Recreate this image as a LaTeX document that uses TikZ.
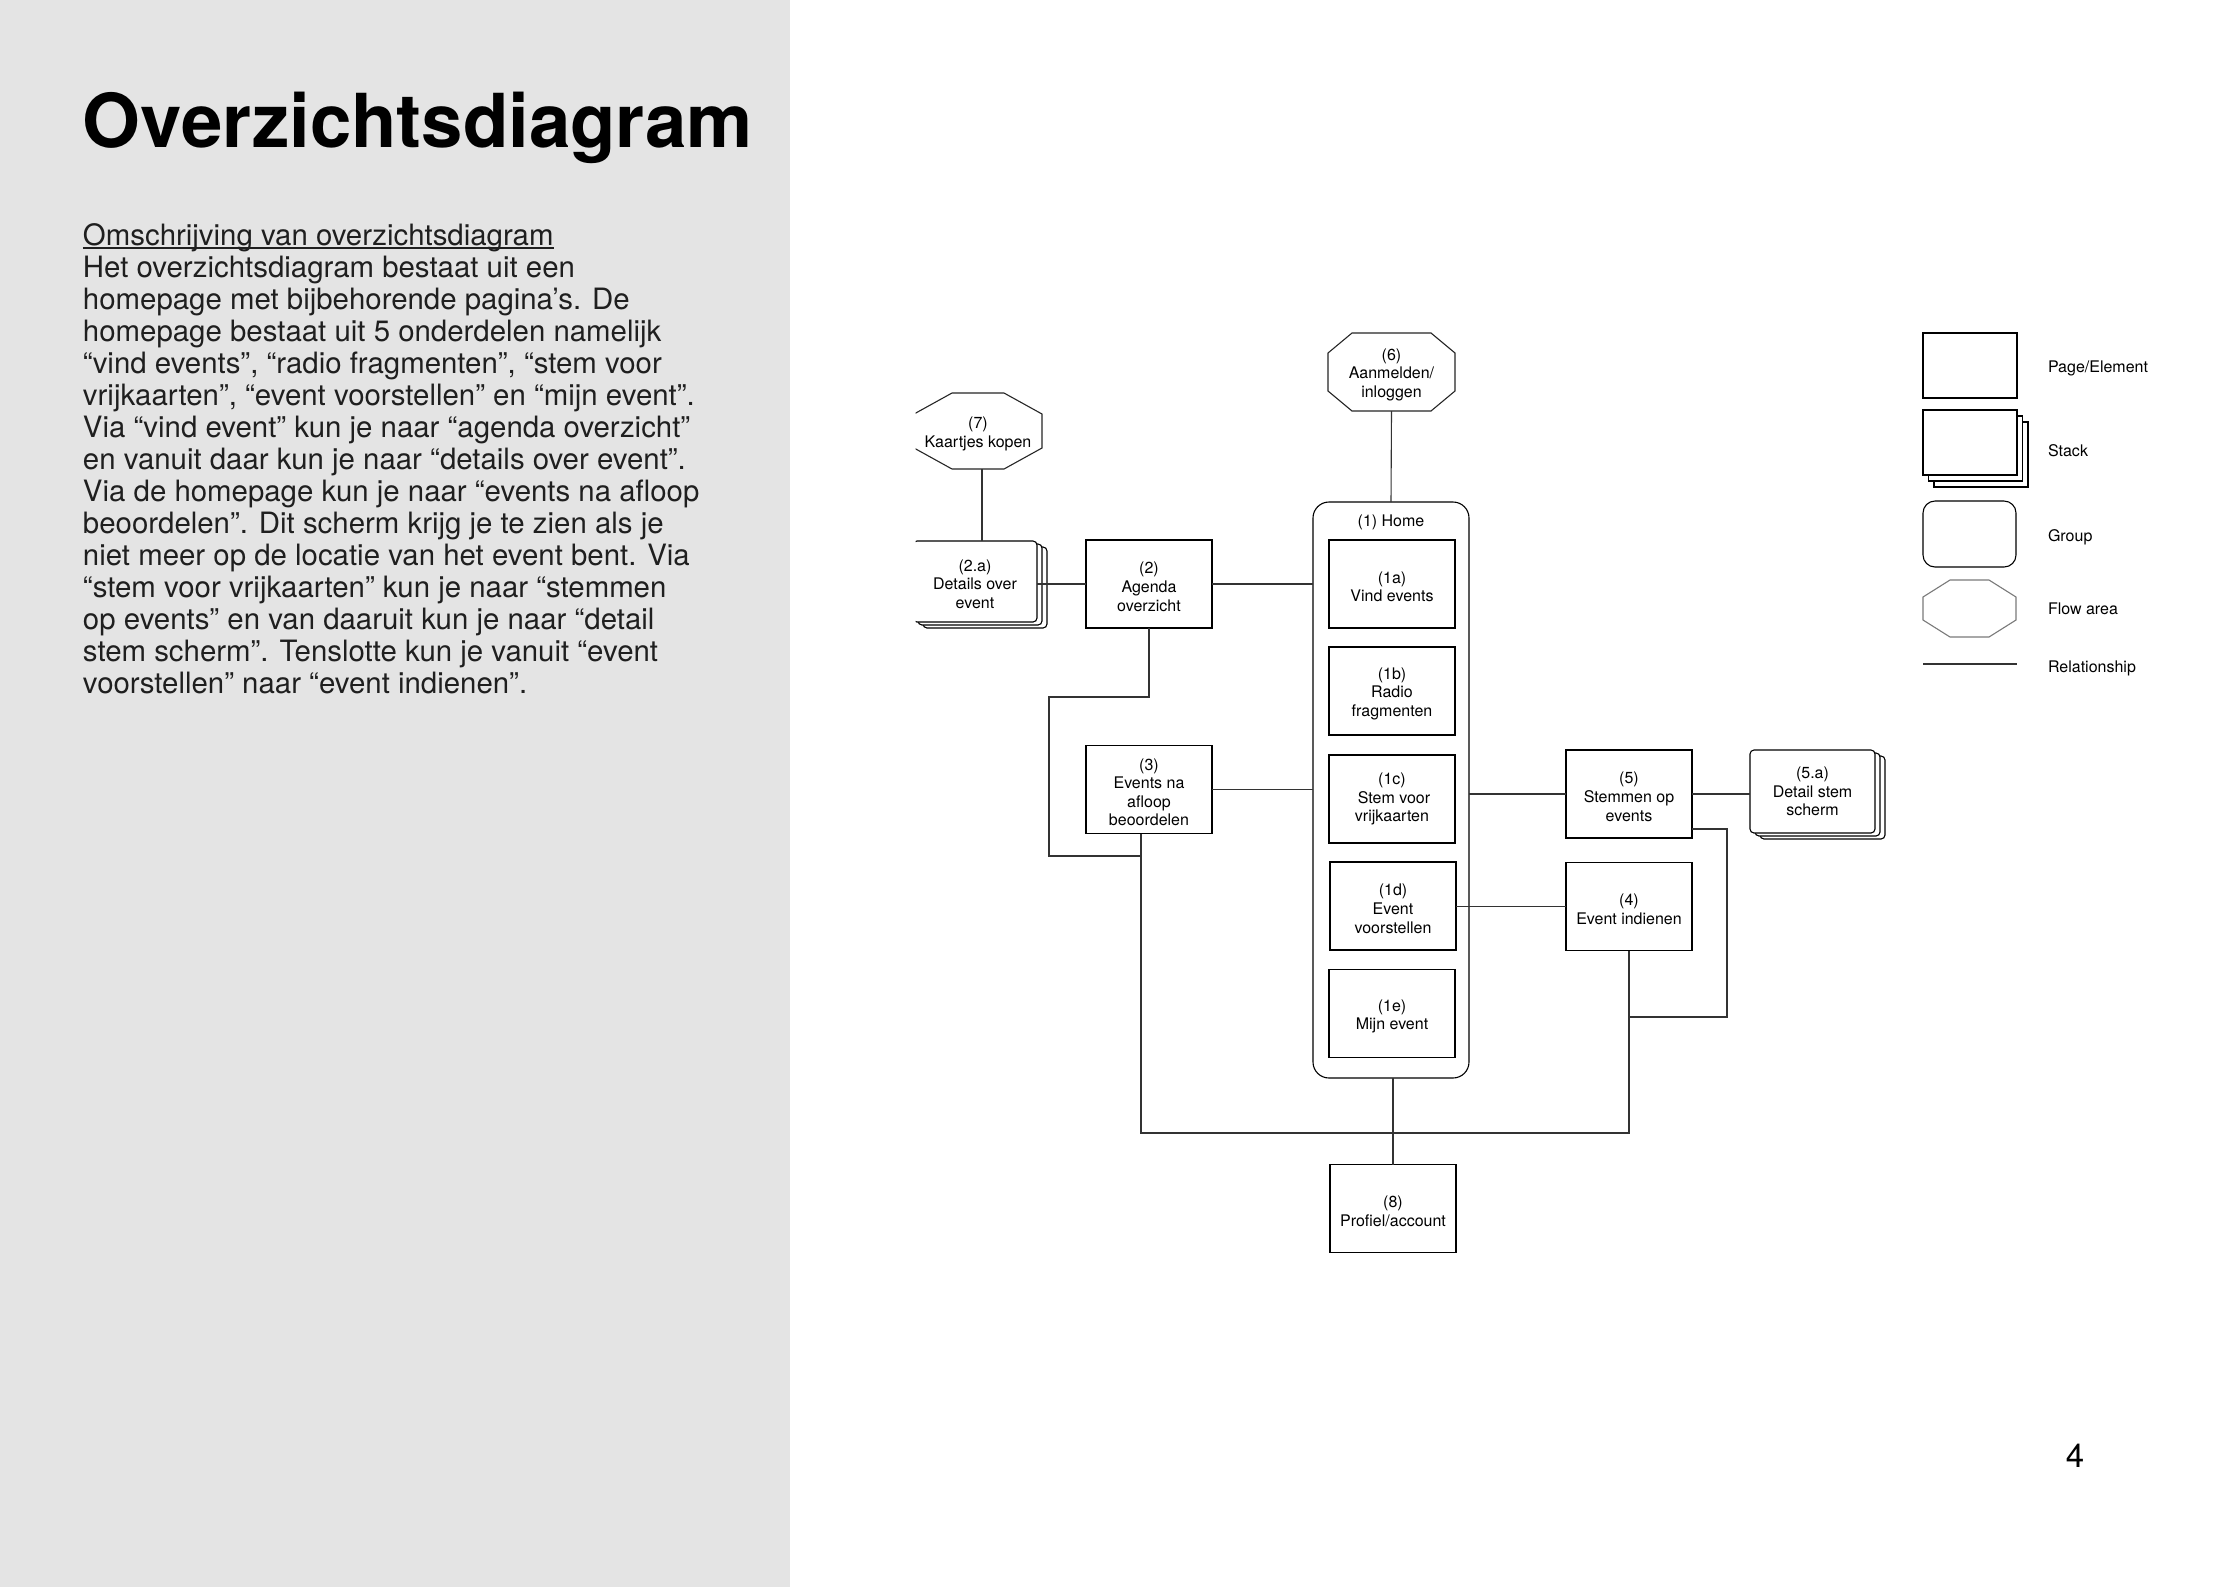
\documentclass[tikz,border=0pt]{standalone}
\usepackage{fontspec}
\setmainfont{TeX Gyre Heros}
\usetikzlibrary{shadows}
\definecolor{panelgray}{HTML}{E4E4E4}
\definecolor{flowgray}{HTML}{7A7A7A}
\definecolor{linegray}{HTML}{333333}
\newsavebox\ulbox
\newcommand\diagfont{\fontsize{8}{9.3}\selectfont}
\newcommand\parafont{\fontsize{14.7}{16}\selectfont}
\newcommand\titlefont{\fontsize{37.2}{40}\selectfont\bfseries}
\newcommand\up{\rule{0pt}{8.6pt}}
% octagon drawn on the border of a (rectangular) named node
\newcommand\drawocto[4][]{\draw[#1] ([xshift=#3]#2.north west) -- ([xshift=-#3]#2.north east) -- ([yshift=-#4]#2.north east) -- ([yshift=#4]#2.south east) -- ([xshift=-#3]#2.south east) -- ([xshift=#3]#2.south west) -- ([yshift=#4]#2.south west) -- ([yshift=-#4]#2.north west) -- cycle;}
\begin{document}
\begin{tikzpicture}[x=0.5pt,y=-0.5pt,line width=0.55pt,
  every node/.style={inner sep=0pt,outer sep=0pt},
  pagebox/.style={draw=black,fill=white,minimum width=63pt,minimum height=44pt,align=center,font=\diagfont},
  stackbox/.style={pagebox,rounded corners=2pt,
    copy shadow={shadow xshift=5pt,shadow yshift=-3pt,draw=black,fill=white},
    copy shadow={shadow xshift=2.5pt,shadow yshift=-1.5pt,draw=black,fill=white}},
  octobox/.style={align=center,font=\diagfont},
  conn/.style={draw=linegray,line width=0.55pt},
  paraline/.style={anchor=base west,font=\parafont,text=black!88},
  lglabel/.style={anchor=base west,font=\diagfont}]
\useasboundingbox (0,0) rectangle (2234,1587);
\fill[white] (0,0) rectangle (2234,1587);
\fill[panelgray] (0,0) rectangle (790,1587);

% ---- left panel text ----
\node[anchor=base west,font=\titlefont] (title) at (83,147) {Overzichtsdiagram};
\node[paraline] (phead) at (83,245)
  {\sbox\ulbox{Omschrijving van overzichtsdiagram}\rlap{\rule[-1.8pt]{\wd\ulbox}{0.6pt}}\usebox\ulbox};
\foreach \ln [count=\i from 1] in {
  {Het overzichtsdiagram bestaat uit een},
  {homepage met bijbehorende pagina’s. De},
  {homepage bestaat uit 5 onderdelen namelijk},
  {“vind events”, “radio fragmenten”, “stem voor},
  {vrijkaarten”, “event voorstellen” en “mijn event”.},
  {Via “vind event” kun je naar “agenda overzicht”},
  {en vanuit daar kun je naar “details over event”.},
  {Via de homepage kun je naar “events na afloop},
  {beoordelen”. Dit scherm krijg je te zien als je},
  {niet meer op de locatie van het event bent. Via},
  {“stem voor vrijkaarten” kun je naar “stemmen},
  {op events” en van daaruit kun je naar “detail},
  {stem scherm”. Tenslotte kun je vanuit “event},
  {voorstellen” naar “event indienen”.}}
  \node[paraline] (p\i) at (83,{245+32*\i}) {\ln};

\node[anchor=base,font=\fontsize{16.5}{18}\selectfont] (pagenum) at (2075,1467) {4};

% ---- diagram: clipped left part ----
\begin{scope}
\clip (915.5,0) rectangle (2234,1587);
\node[octobox,minimum width=64pt,minimum height=38pt] (n7) at (978,431) {\up(7)\\Kaartjes kopen};
\drawocto[draw=black!85]{n7}{19pt}{10.5pt}
\node[stackbox,minimum width=62pt,minimum height=40.5pt] (n2a) at (975,581.5) {\up(2.a)\\Details over\\event};
\end{scope}

% ---- home group ----
\node[draw=black,rounded corners=8pt,minimum width=78pt,minimum height=288pt] (home) at (1391,790) {};
\node[font=\diagfont] (homelbl) at (1391,522) {(1) Home};
\node[pagebox] (n1a) at (1392,584) {\up(1a)\\Vind events};
\node[pagebox] (n1b) at (1392,691) {\up(1b)\\Radio\\fragmenten};
\node[pagebox] (n1c) at (1392,799) {(1c)\\\hspace*{2pt}Stem voor\\vrijkaarten};
\node[pagebox] (n1d) at (1393,906) {\up(1d)\\Event\\voorstellen};
\node[pagebox] (n1e) at (1392,1013.5) {\up(1e)\\Mijn event};

% ---- other pages ----
\node[octobox,minimum width=63.5pt,minimum height=39pt] (n6) at (1391.5,372) {\up(6)\\Aanmelden/\\inloggen};
\drawocto[draw=black!85]{n6}{12pt}{10pt}
\node[pagebox] (n2) at (1149,584) {\up(2)\\Agenda\\overzicht};
\node[pagebox] (n3) at (1149,789.5) {\up(3)\\Events na\\afloop\\beoordelen};
\node[pagebox] (n5) at (1629,794) {\up(5)\\Stemmen op\\events};
\node[pagebox] (n4) at (1629,906.5) {\up(4)\\Event indienen};
\node[stackbox,minimum width=62.5pt,minimum height=41.5pt] (n5a) at (1812.5,791.5) {(5.a)\\Detail stem\\scherm};
\node[pagebox] (n8) at (1393,1208.5) {\up(8)\\Profiel/account};

% ---- connectors ----
\draw[conn] (n6.south) -- (home.north);
\draw[conn] ([xshift=2pt]n7.south) -- ([xshift=2pt]n7.south |- n2a.north);
\draw[conn] (n2.west) -- (n2.west -| n2a.east);
\draw[conn] (n2.east) -- (n2.east -| home.west);
\draw[conn] (n3.east) -- (n3.east -| home.west);
\draw[conn] (n5.west) -- (n5.west -| home.east);
\draw[conn] (n5.east) -- (n5.east -| n5a.west);
\draw[conn] (n4.west) -- (n4.west -| n1d.east);
\draw[conn] (n8.north) -- (n8.north |- home.south);
\coordinate (j1) at (1049,697);
\coordinate (j2) at (1049,856);
\coordinate (bl) at (1141,1133);
\coordinate (r1) at (1727,829);
\coordinate (r2) at (1727,1017);
\draw[conn] (n2.south) |- (j1) -- (j2) -- (j2 -| bl);
\draw[conn] (bl |- n3.south) -- (bl) -| (n4.south);
\draw[conn] (r1 -| n5.east) -- (r1) -- (r2) -- (r2 -| n4.south);

% ---- legend ----
\node[draw=black,minimum width=47pt,minimum height=32.5pt] (lgpage) at (1970,365.5) {};
\node[draw=black,fill=white,minimum width=47pt,minimum height=32.5pt,
  copy shadow={shadow xshift=5.5pt,shadow yshift=-6pt,draw=black,fill=white},
  copy shadow={shadow xshift=2.75pt,shadow yshift=-3pt,draw=black,fill=white}] (lgstack) at (1970,442.5) {};
\node[draw=black,rounded corners=6pt,minimum width=46.5pt,minimum height=33pt] (lggroup) at (1969.5,534) {};
\node[minimum width=46.5pt,minimum height=28.5pt] (lgflow) at (1969.5,608.5) {};
\drawocto[draw=flowgray]{lgflow}{13.5pt}{8.5pt}
\coordinate (lr1) at (1923,664);
\coordinate (lr2) at (2017,664);
\draw[conn] (lr1) -- (lr2);
\node[lglabel] (lt1) at (2048,372) {Page/Element};
\node[lglabel] (lt2) at (2048,456) {Stack};
\node[lglabel] (lt3) at (2048,541) {Group};
\node[lglabel] (lt4) at (2048,614) {Flow area};
\node[lglabel] (lt5) at (2048,672) {Relationship};
\end{tikzpicture}
\end{document}
